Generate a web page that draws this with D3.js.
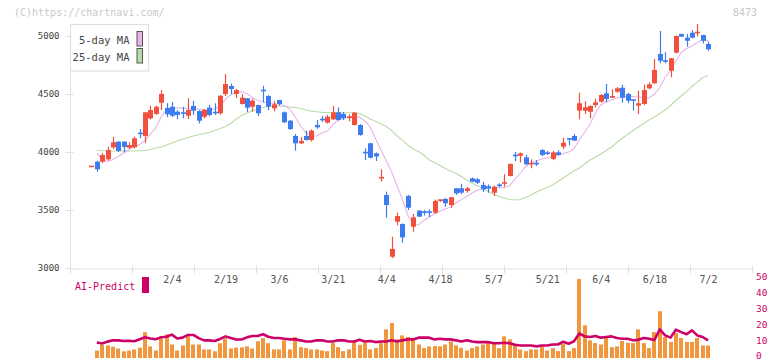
<!DOCTYPE html>
<html><head><meta charset="utf-8">
<script src="https://cdn.jsdelivr.net/npm/d3@7"></script>
<style>
body{margin:0;background:#fff;}
svg{display:block;font-family:"DejaVu Sans Mono",monospace;}
</style>
</head><body>
<svg id="c" width="772" height="361"></svg>
<script>
// ---------- data ----------
const opens = [3870,3916,3916,3937,4040,4089,4089,4037,4040,4160, 4138,4290,4328,4425,4380,4390,4347,4335,4313,4397, 4353,4304,4382,4340,4334,4500,4569,4500,4414,4463, 4390,4405,4530,4483,4377,4448,4342,4270,4138,4075, 4138,4103,4233,4280,4253,4282,4342,4328,4295,4233, 4233,3995,4075,3989,3768,3629,3097,3399,3379,3621, 3356,3494,3482,3482,3477,3575,3595,3543,3687,3687, 3664,3773,3765,3716,3705,3649,3713,3728,3793,3970, 3968,3954,3893,3900,4017,3990,3940,3997,4046,4113, 4138,4356,4356,4347,4405,4434,4506,4468,4520,4554, 4500,4448,4399,4414,4549,4592,4845,4784,4701,4856, 5017,4985,5028,5023,5009,4931];
const closes = [3876,3851,3974,4017,4084,4009,4043,4060,4118,4150, 4342,4362,4390,4500,4325,4313,4320,4325,4362,4356, 4270,4362,4319,4330,4485,4586,4543,4534,4468,4382, 4442,4334,4525,4390,4411,4414,4256,4198,4075,4095, 4103,4184,4213,4272,4304,4342,4276,4290,4300,4339, 4147,3985,3951,3962,3778,3543,3164,3448,3264,3520, 3437,3443,3477,3475,3578,3585,3558,3610,3644,3650, 3687,3744,3735,3678,3685,3701,3707,3733,3897,3962, 3989,3894,3900,3895,3975,3982,3997,3975,4080,4105, 4098,4420,4385,4397,4428,4491,4457,4483,4549,4468, 4442,4436,4420,4534,4583,4707,4787,4772,4808,5000, 4994,4959,4985,5037,4959,4885];
const highs = [3876,3925,3991,4046,4132,4095,4095,4084,4132,4198, 4345,4399,4400,4534,4420,4430,4360,4390,4463,4440, 4360,4370,4405,4420,4490,4672,4590,4545,4500,4465, 4460,4408,4571,4490,4440,4450,4350,4275,4155,4130, 4185,4195,4276,4310,4320,4397,4385,4345,4325,4345, 4240,4032,4080,3995,3851,3658,3270,3477,3385,3630, 3466,3500,3500,3506,3590,3590,3605,3612,3690,3725, 3700,3780,3775,3744,3720,3710,3730,3810,3900,4000, 3995,3975,3937,3930,4025,4010,4010,4015,4123,4115, 4155,4511,4436,4400,4460,4500,4586,4540,4560,4580, 4510,4450,4528,4580,4600,4802,5043,4860,4810,5005, 5020,5017,5050,5103,5010,4951];
const lows = [3870,3830,3905,3925,4026,4000,3997,4026,4032,4118, 4078,4280,4320,4362,4300,4300,4285,4290,4285,4320, 4247,4290,4310,4320,4320,4483,4500,4466,4410,4345, 4347,4310,4428,4360,4350,4400,4250,4190,4011,4070, 4100,4090,4200,4259,4245,4276,4270,4276,4265,4230, 4140,3931,3945,3922,3744,3434,3084,3368,3218,3500, 3313,3440,3453,3440,3466,3570,3528,3520,3630,3638, 3650,3740,3725,3655,3649,3620,3695,3700,3790,3920, 3910,3888,3860,3880,3965,3975,3930,3970,4026,4057, 4095,4282,4328,4290,4385,4425,4428,4465,4510,4425, 4420,4356,4328,4405,4540,4590,4765,4765,4644,4850, 4990,4908,4980,4994,4935,4873];
const ma5 = [null,3989,3940,3916,3935,3961,3991,4022,4043,4065, 4103,4155,4207,4302,4366,4379,4382,4379,4375,4371, 4368,4365,4362,4371,4397,4453,4496,4517,4519,4504, 4470,4444,4431,4422,4418,4412,4401,4371,4302,4224, 4164,4138,4138,4164,4181,4233,4276,4302,4304,4304, 4299,4267,4216,4112,4017,3922,3828,3707,3595,3457, 3379,3371,3410,3440,3466,3491,3509,3526,3560,3591, 3616,3647,3672,3681,3690,3692,3692,3692,3711,3767, 3819,3873,3910,3922,3940,3948,3957,3970,3987,4000, 4030,4103,4172,4241,4334,4405,4431,4448,4466,4477, 4477,4477,4474,4470,4466,4500,4556,4642,4707,4784, 4858,4892,4914,4944,4970,4957];
const ma25 = [null,4017,4011,4009,4009,4009,4009,4009,4009,4011, 4013,4022,4034,4043,4060,4078,4095,4110,4125,4138, 4148,4159,4168,4185,4203,4220,4246,4284,4315,4336, 4353,4371,4384,4392,4397,4397,4392,4388,4384,4375, 4362,4351,4347,4342,4341,4339,4339,4339,4339,4339, 4332,4310,4284,4263,4241,4220,4185,4138,4103,4060, 4026,4004,3974,3931,3910,3884,3858,3836,3815,3789, 3759,3733,3707,3685,3659,3638,3616,3603,3591,3586, 3591,3608,3629,3655,3677,3694,3716,3746,3776,3806, 3836,3862,3897,3931,3957,3983,4013,4043,4082,4118, 4151,4185,4216,4246,4276,4302,4332,4362,4401,4444, 4483,4522,4565,4603,4642,4659];
const volume = [null,4.7,8.2,7.9,7.1,5.9,4.2,4.7,5.3,6.5, 16.2,7.3,4.7,12.2,14.9,8.5,4.7,7.9,13.6,8.5, 8.5,5.4,5.4,4.2,9.3,12.5,6.0,6.5,6.7,7.3, 6.0,10.5,12.5,9.3,5.4,5.4,11.1,5.4,13.2,6.8, 6.2,5.4,5.4,4.7,4.3,9.4,6.8,4.3,5.4,10.4, 8.3,9.6,5.4,6.2,9.4,18.0,22.0,11.7,14.2,13.2, 11.7,8.5,6.2,7.3,7.5,7.3,8.5,10.4,7.9,6.4, 4.7,6.2,7.3,8.5,9.4,9.0,6.2,13.6,11.7,8.3, 5.4,4.3,5.4,5.4,7.3,4.7,6.2,4.3,9.0,4.3, 6.2,49.7,20.6,11.1,9.4,8.5,13.2,6.8,7.3,10.7, 9.6,9.4,18.0,9.4,6.2,16.3,29.4,13.2,10.1,15.7, 12.6,10.1,10.1,12.6,7.9,7.9];
const aiPredict = [null,9.8,9.1,10.3,11.1,11.1,10.7,10.8,10.5,11.8, 13.0,12.3,11.8,13.0,13.4,14.7,12.3,12.8,14.5,14.5, 12.5,11.1,11.1,10.7,12.0,13.6,12.6,11.6,11.6,13.0, 13.8,13.8,14.9,13.4,12.6,12.6,12.1,11.7,11.7,11.1, 10.4,10.4,11.1,11.1,10.4,10.4,11.1,11.1,10.4,10.4, 11.5,10.4,10.7,10.0,10.4,10.4,11.1,10.4,11.1,11.7, 11.7,12.8,12.8,12.8,11.7,12.1,11.7,11.7,11.1,10.4, 11.1,10.4,10.0,10.0,10.0,9.3,9.3,9.6,9.3,8.3, 7.9,7.9,7.9,7.3,7.9,7.9,8.5,8.5,10.2,9.0, 10.5,15.4,13.6,13.2,13.8,12.8,13.2,13.6,12.6,12.1, 12.1,11.1,11.5,12.6,12.1,11.3,18.0,14.2,12.8,17.8, 16.3,14.9,17.4,14.2,13.2,11.1];
const dateLabels = ["2/4","2/19","3/6","3/21","4/4","4/18","5/7","5/21","6/4","6/18","7/2"];
const dateLabelIdx = [15,25,35,45,55,65,75,85,95,105,115];
const priceTicks = [3000,3500,4000,4500,5000];
const volTicks = [0,10,20,30,40,50];
const legendNames = ["5-day MA","25-day MA"];

// ---------- render ----------
const svg = d3.select("#c");
const idx = d3.range(opens.length);
const x = d3.scaleLinear().domain([-4, 123.2]).range([70, 752]);
const y = d3.scaleLinear().domain([3000, 5000]).range([268, 36]);
const yv = d3.scaleLinear().domain([0, 50]).range([358, 278.5]);
const grid = d3.scaleLinear().domain([0, 11]).range([70, 752]);

const RED = "#f0503c", BLUE = "#3d7cf0", PINK = "#e8b4e8", GREEN = "#b8dca8", GRAYL = "#e0e0e0";

// watermark
svg.append("text").attr("x", 14).attr("y", 16).attr("font-size", 10).attr("fill", "#c8c8c8").text("(C)https://chartnavi.com/");
svg.append("text").attr("x", 757).attr("y", 16).attr("text-anchor", "end").attr("font-size", 10).attr("fill", "#c8c8c8").text("8473");

// axes lines
svg.append("line").attr("x1", 70.5).attr("x2", 70.5).attr("y1", 24).attr("y2", 268).attr("stroke", GRAYL);
const xg = svg.append("g").attr("transform", "translate(0,268.5)")
  .call(d3.axisBottom(grid).tickValues(d3.range(0, 12)).tickSizeInner(5).tickSizeOuter(0).tickFormat(""));
xg.select(".domain").attr("stroke", GRAYL);
xg.selectAll(".tick line").attr("stroke", GRAYL).attr("y1", -3).attr("y2", 5);

const yg = svg.append("g").attr("transform", "translate(70.5,0)")
  .call(d3.axisLeft(y).tickValues(priceTicks).tickSizeInner(5).tickSizeOuter(0).tickPadding(6).tickFormat(d3.format("d")));
yg.select(".domain").remove();
yg.selectAll(".tick line").attr("stroke", GRAYL).attr("x1", 3).attr("x2", -5);
yg.selectAll(".tick text").attr("font-size", 9).attr("fill", "#444").attr("font-family", "DejaVu Sans Mono");

// date labels
const dg = svg.append("g").attr("transform", "translate(0,276)")
  .call(d3.axisBottom(x).tickValues(dateLabelIdx).tickSize(0).tickPadding(0).tickFormat((d, i) => dateLabels[i]));
dg.select(".domain").remove();
dg.selectAll(".tick text").attr("font-size", 10).attr("fill", "#555").attr("font-family", "DejaVu Sans Mono").attr("dy", "0.72em");

// MA lines
const maLine = arr => d3.line().defined(i => arr[i] != null).x(i => x(i)).y(i => y(arr[i]));
svg.append("path").attr("d", maLine(ma25)(idx)).attr("fill", "none").attr("stroke", GREEN).attr("stroke-width", 1.1);
svg.append("path").attr("d", maLine(ma5)(idx)).attr("fill", "none").attr("stroke", PINK).attr("stroke-width", 1.1);

// candles
const cg = svg.append("g");
idx.forEach(i => {
  const up = closes[i] >= opens[i];
  const col = up ? RED : BLUE;
  const cx = Math.round(x(i));
  cg.append("line").attr("x1", cx + 0.5).attr("x2", cx + 0.5)
    .attr("y1", y(highs[i])).attr("y2", y(lows[i])).attr("stroke", col).attr("stroke-width", 1.2);
  const top = y(Math.max(opens[i], closes[i]));
  const h = Math.max(1.6, Math.abs(y(opens[i]) - y(closes[i])));
  cg.append("rect").attr("x", cx - 2).attr("width", 5)
    .attr("y", top - (h === 1.6 ? 0.8 : 0)).attr("height", h).attr("fill", col);
});

// legend
const lg = svg.append("g");
lg.append("rect").attr("x", 70.5).attr("y", 24.5).attr("width", 78).attr("height", 46.5).attr("fill", "#fff").attr("stroke", GRAYL).attr("stroke-width", 1.2);
const legCols = [PINK, GREEN];
legendNames.forEach((n, k) => {
  lg.append("text").attr("x", 129.5).attr("y", 44 + k * 16.5).attr("text-anchor", "end").attr("font-size", 10.5).attr("fill", "#444").text(n);
  lg.append("rect").attr("x", 137).attr("y", 31.5 + k * 17).attr("width", 5.5).attr("height", 14.5).attr("fill", legCols[k]).attr("stroke", "#555").attr("stroke-width", 1);
});

// AI-Predict label
svg.append("text").attr("x", 75).attr("y", 290).attr("font-size", 10).attr("fill", "#cc0066").text("AI-Predict");
svg.append("rect").attr("x", 142).attr("y", 277).attr("width", 7).attr("height", 16).attr("fill", "#cc0066");

// volume bars
svg.append("g").selectAll("rect").data(idx.filter(i => volume[i] != null)).join("rect")
  .attr("x", i => Math.round(x(i)) - 2).attr("width", 4)
  .attr("y", i => yv(volume[i])).attr("height", i => yv(0) - yv(volume[i]))
  .attr("fill", "#f0963c");

// AI line
svg.append("path").attr("d", d3.line().defined(i => aiPredict[i] != null).x(i => x(i)).y(i => yv(aiPredict[i]))(idx))
  .attr("fill", "none").attr("stroke", "#cc0066").attr("stroke-width", 2.6).attr("stroke-linejoin", "round");

// right volume axis
const vg = svg.append("g").attr("transform", "translate(752,0)")
  .call(d3.axisRight(yv).tickValues(volTicks).tickSize(0).tickPadding(4));
vg.select(".domain").remove();
vg.selectAll(".tick text").attr("font-size", 9.5).attr("fill", "#cc0066").attr("font-family", "DejaVu Sans Mono").attr("dy", "0.1em");
</script>
</body></html>
